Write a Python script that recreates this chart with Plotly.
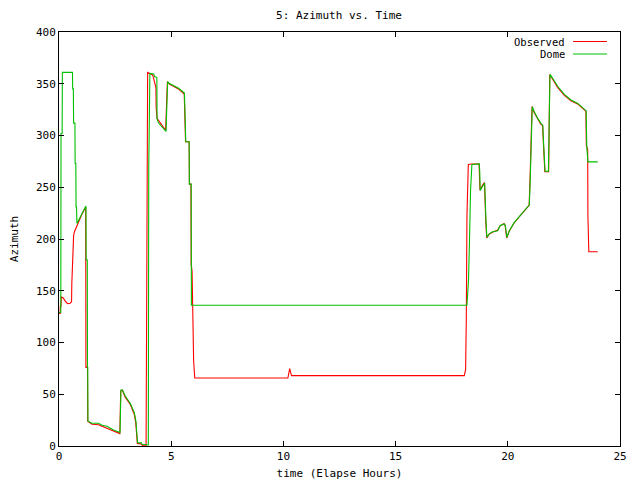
import plotly.graph_objects as go

# Dome (green) series: time (h), azimuth (deg)
dome_t = [0.00, 0.08, 0.09, 0.14, 0.15, 0.60, 0.61, 0.64, 0.65, 0.71, 0.72, 0.75, 0.76, 0.78, 0.80,
          1.20, 1.21, 1.26, 1.27, 1.28, 1.29, 1.47, 1.76, 1.92, 2.14, 2.43, 2.72, 2.73, 2.76, 2.83,
          2.96, 3.18, 3.27, 3.36, 3.43, 3.48, 3.50, 3.67, 3.70, 3.98, 3.99, 4.00, 4.05, 4.22, 4.26,
          4.36, 4.37, 4.44, 4.77, 4.78, 4.84, 4.90, 5.33, 5.59, 5.62, 5.65, 5.80, 5.81, 5.89, 5.90,
          18.18, 18.21, 18.25, 18.29, 18.34, 18.40, 18.73, 18.75, 18.77, 18.90, 18.97, 19.03, 19.07,
          19.17, 19.32, 19.55, 19.66, 19.84, 19.89, 19.96, 20.07, 20.29, 20.59, 20.96, 21.00, 21.05,
          21.09, 21.18, 21.33, 21.48, 21.56, 21.58, 21.63, 21.66, 21.81, 21.84, 21.88, 22.00, 22.23,
          22.52, 22.82, 23.12, 23.41, 23.49, 23.52, 23.57, 24.01]
dome_az = [129, 129, 302, 302, 361, 361, 345, 345, 312, 312, 273, 273, 231, 231, 215,
           232, 180, 180, 76, 76, 24, 22, 22, 20, 19, 15.5, 13, 22, 54, 54,
           48, 41, 37, 32, 23.6, 10, 3.2, 3, 1.6, 1, 90, 270, 360, 359.5, 357,
           356, 316, 312, 304, 316, 352, 350.5, 345.6, 341, 307, 294, 294, 253, 253, 136,
           136, 145, 161, 195, 247, 272, 272.5, 264.7, 247, 251.7, 254, 216, 201.6,
           205, 207, 208, 213, 214.6, 213, 201.6, 208, 216, 224, 233, 257, 303.5,
           327.8, 323, 316.5, 311.7, 310, 298.7, 277.7, 265.4, 265.4, 313, 359, 355.3, 347.3,
           339.8, 334.3, 331, 326.2, 324, 289, 274.5, 274.5]

# Observed (red) series: time (h), azimuth (deg)
obs_t = [0.00, 0.05, 0.06, 0.09, 0.10, 0.19, 0.28, 0.38, 0.50, 0.56, 0.57, 0.62, 0.65, 0.69, 0.80,
         1.00, 1.19, 1.20, 1.27, 1.28, 1.47, 1.76, 1.92, 2.14, 2.43, 2.71, 2.72, 2.75, 2.82, 2.95,
         3.17, 3.26, 3.35, 3.42, 3.47, 3.49, 3.66, 3.72, 3.88, 3.89, 3.93, 3.95, 4.17, 4.21, 4.32,
         4.33, 4.37, 4.75, 4.77, 4.83, 4.90, 5.32, 5.58, 5.61, 5.64, 5.80, 5.81, 5.88, 5.89, 5.93,
         5.96, 6.00, 6.05, 10.20, 10.28, 10.36, 18.06, 18.12, 18.15, 18.18, 18.24, 18.40, 18.72,
         18.74, 18.76, 18.89, 18.96, 19.02, 19.06, 19.16, 19.31, 19.54, 19.65, 19.83, 19.88, 19.95,
         20.06, 20.28, 20.58, 20.95, 20.99, 21.04, 21.08, 21.17, 21.32, 21.47, 21.55, 21.57, 21.62,
         21.65, 21.82, 21.83, 21.87, 21.99, 22.22, 22.51, 22.81, 23.11, 23.40, 23.48, 23.50, 23.56,
         23.57, 23.61, 24.01]
obs_az = [128, 128, 135, 135, 144, 143, 140, 137.5, 138, 139.5, 156, 186, 203, 207, 213,
          223, 231, 76, 76, 24, 21, 20.5, 19, 17, 14.5, 12, 22, 53, 54, 47,
          40.5, 36, 31, 22.6, 9, 2.5, 2, 0.5, 0, 89, 270, 361, 358.5, 356, 346,
          327, 316.5, 305, 316, 352, 350, 345, 340, 306, 294, 294, 253, 253, 175.7, 169,
          112.6, 81.8, 65.7, 65.7, 74.7, 68, 68, 73.8, 122, 222.6, 272, 272.5, 272.5,
          264, 247, 252.5, 254.5, 216, 201, 204.5, 206.5, 208.5, 212.5, 215, 213, 201,
          207.5, 215.5, 223.5, 232.5, 257, 303.5, 328, 322.5, 316, 311, 309.5, 298, 277,
          265, 265, 313, 359, 354.5, 346.5, 339, 333.5, 330.5, 325.5, 323.5, 290, 286.7,
          222.6, 187.7, 187.7]

x_ticks = [0, 5, 10, 15, 20, 25]
y_ticks = [0, 50, 100, 150, 200, 250, 300, 350, 400]

RED = "#ff0000"
GREEN = "#00c000"
FONT = "DejaVu Sans Mono"

L, R, T, B = 59, 620, 32, 446

fig = go.Figure()
fig.add_trace(go.Scatter(x=obs_t, y=obs_az, mode="lines", name="Observed",
                         line=dict(color=RED, width=1.1)))
fig.add_trace(go.Scatter(x=dome_t, y=dome_az, mode="lines", name="Dome",
                         line=dict(color=GREEN, width=1.1)))

axis_common = dict(showgrid=False, zeroline=False, showline=True, linecolor="black",
                   linewidth=1, mirror="ticks", ticks="inside", ticklen=5,
                   tickcolor="black", tickwidth=1, automargin=False,
                   tickfont=dict(family=FONT, size=11, color="black"))

fig.update_layout(
    width=640, height=480,
    margin=dict(l=L, r=640 - R, t=T, b=480 - B, autoexpand=False),
    paper_bgcolor="white", plot_bgcolor="white",
    showlegend=False,
    title=dict(text="5: Azimuth vs. Time", x=339 / 640, xanchor="center",
               y=1 - 15 / 480, yanchor="middle", yref="container", xref="container",
               automargin=False,
               font=dict(family=FONT, size=11, color="black")),
    xaxis=dict(range=[0, 25], tickvals=x_ticks, ticktext=[str(v) for v in x_ticks],
               title=dict(text="time (Elapse Hours)", standoff=7,
                          font=dict(family=FONT, size=11, color="black")),
               **axis_common),
    yaxis=dict(range=[0, 400], tickvals=y_ticks, ticktext=[str(v) for v in y_ticks],
               title=dict(text="Azimuth", standoff=15,
                          font=dict(family=FONT, size=11, color="black")),
               **axis_common),
)

# gnuplot-style key: text right-aligned with line sample on the right
legend_items = [("Observed", RED, 41.5), ("Dome", GREEN, 54)]
for label, color, ypx in legend_items:
    yp = 1 - (ypx - T) / (B - T)
    fig.add_annotation(text=label, xref="paper", yref="paper", x=(566 - L) / (R - L), y=yp,
                       xanchor="right", yanchor="middle", showarrow=False, height=10,
                       borderpad=0,
                       font=dict(family=FONT, size=10.5, color="black"))
    fig.add_shape(type="line", xref="paper", yref="paper",
                  x0=(573 - L) / (R - L), x1=(607 - L) / (R - L), y0=yp, y1=yp,
                  line=dict(color=color, width=1))

fig.write_html("out.html", config={"displayModeBar": False},
               post_script="document.body.style.margin='0';")
